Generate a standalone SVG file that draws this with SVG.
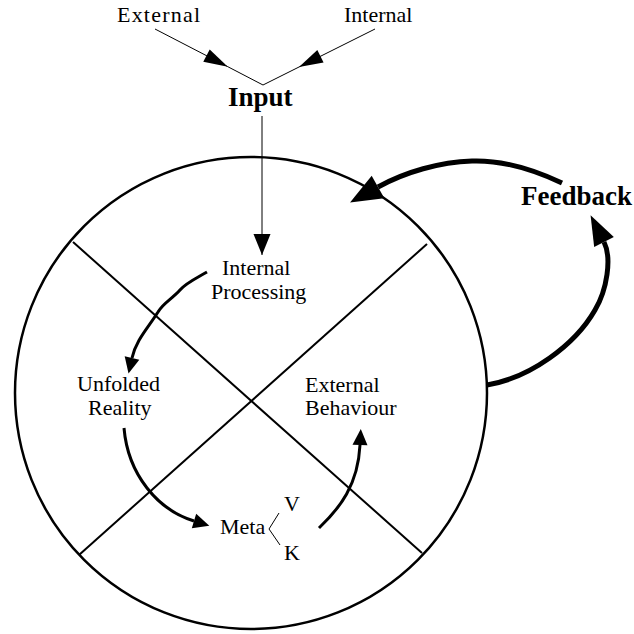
<svg xmlns="http://www.w3.org/2000/svg" width="634" height="634" viewBox="0 0 634 634">
<style>
text{font-family:"Liberation Serif","Times New Roman",serif;fill:#000;font-size:22px}
.b{font-weight:bold;font-size:27px}
.thin{fill:none;stroke:#000;stroke-width:1}
.mid{fill:none;stroke:#000;stroke-width:3}
.fat{fill:none;stroke:#000;stroke-width:5}
.div{fill:none;stroke:#000;stroke-width:2}
</style>
<defs>
<marker id="hIn" markerUnits="userSpaceOnUse" markerWidth="21" markerHeight="17" refX="21" refY="8.5" orient="auto" overflow="visible"><path d="M0,0 L21,8.5 L0,17 z"/></marker>
<marker id="hMid" markerUnits="userSpaceOnUse" markerWidth="24" markerHeight="14" refX="24" refY="7" orient="auto" overflow="visible"><path d="M0,0 L24,7 L0,14 z"/></marker>
<marker id="hS" markerUnits="userSpaceOnUse" markerWidth="16" markerHeight="15" refX="0" refY="7.5" orient="auto" overflow="visible"><path d="M0,0 L16,7.5 L0,15 z"/></marker>
<marker id="hFb1" markerUnits="userSpaceOnUse" markerWidth="30" markerHeight="22" refX="0" refY="11" orient="auto" overflow="visible"><path d="M0,0 L30,11 L0,22 z"/></marker>
<marker id="hFb2" markerUnits="userSpaceOnUse" markerWidth="32" markerHeight="26" refX="0" refY="13" orient="auto" overflow="visible"><path d="M0,0 L32,13 L0,26 z"/></marker>
</defs>
<rect width="634" height="634" fill="#fff"/>

<g id="circle">
<circle cx="251" cy="393" r="236" fill="none" stroke="#000" stroke-width="2.5"/>
<line class="div" x1="73" y1="242" x2="422" y2="553"/>
<line class="div" x1="427" y1="244" x2="79" y2="555"/>
</g>

<g id="connectors">
<path class="thin" d="M155,29 L227.8,66.7 L263,85" marker-mid="url(#hMid)"/>
<path class="thin" d="M375,29 L299,67 L263,85" marker-mid="url(#hMid)"/>
<path class="thin" d="M262,116 L262,255" marker-end="url(#hIn)"/>
<path class="mid" d="M207,272 C195,279 186,283 180,290 C172,299 163,303 158,312 C148,328 136,340 132,358" marker-end="url(#hS)"/>
<path class="mid" d="M124,428 C128,475 158,510 194,521" marker-end="url(#hS)"/>
<path class="mid" d="M319,528 C340,508 358,485 360,445" marker-end="url(#hS)"/>
<path class="fat" d="M487,385 C530,378 575,345 595,310 C607,290 612,258 604,242" marker-end="url(#hFb1)"/>
<path class="fat" d="M562,183 C530,168 500,160 472,161 C440,162 405,172 378,187" marker-end="url(#hFb2)"/>
<polyline class="thin" points="279,513 269,529 280,545"/>
</g>

<g id="external"><text x="117" y="22" textLength="83" lengthAdjust="spacing">External</text></g>
<g id="internal"><text x="344" y="22">Internal</text></g>
<g id="input"><text class="b" x="228" y="106">Input</text></g>
<g id="feedback"><text class="b" x="521" y="205">Feedback</text></g>
<g id="internal-processing"><text x="222" y="275">Internal</text><text x="211" y="299">Processing</text></g>
<g id="unfolded-reality"><text x="77" y="391">Unfolded</text><text x="88" y="415">Reality</text></g>
<g id="external-behaviour"><text x="305" y="392">External</text><text x="305" y="415">Behaviour</text></g>
<g id="meta"><text x="220" y="534">Meta</text><text x="284" y="511">V</text><text x="284" y="560">K</text></g>
</svg>
